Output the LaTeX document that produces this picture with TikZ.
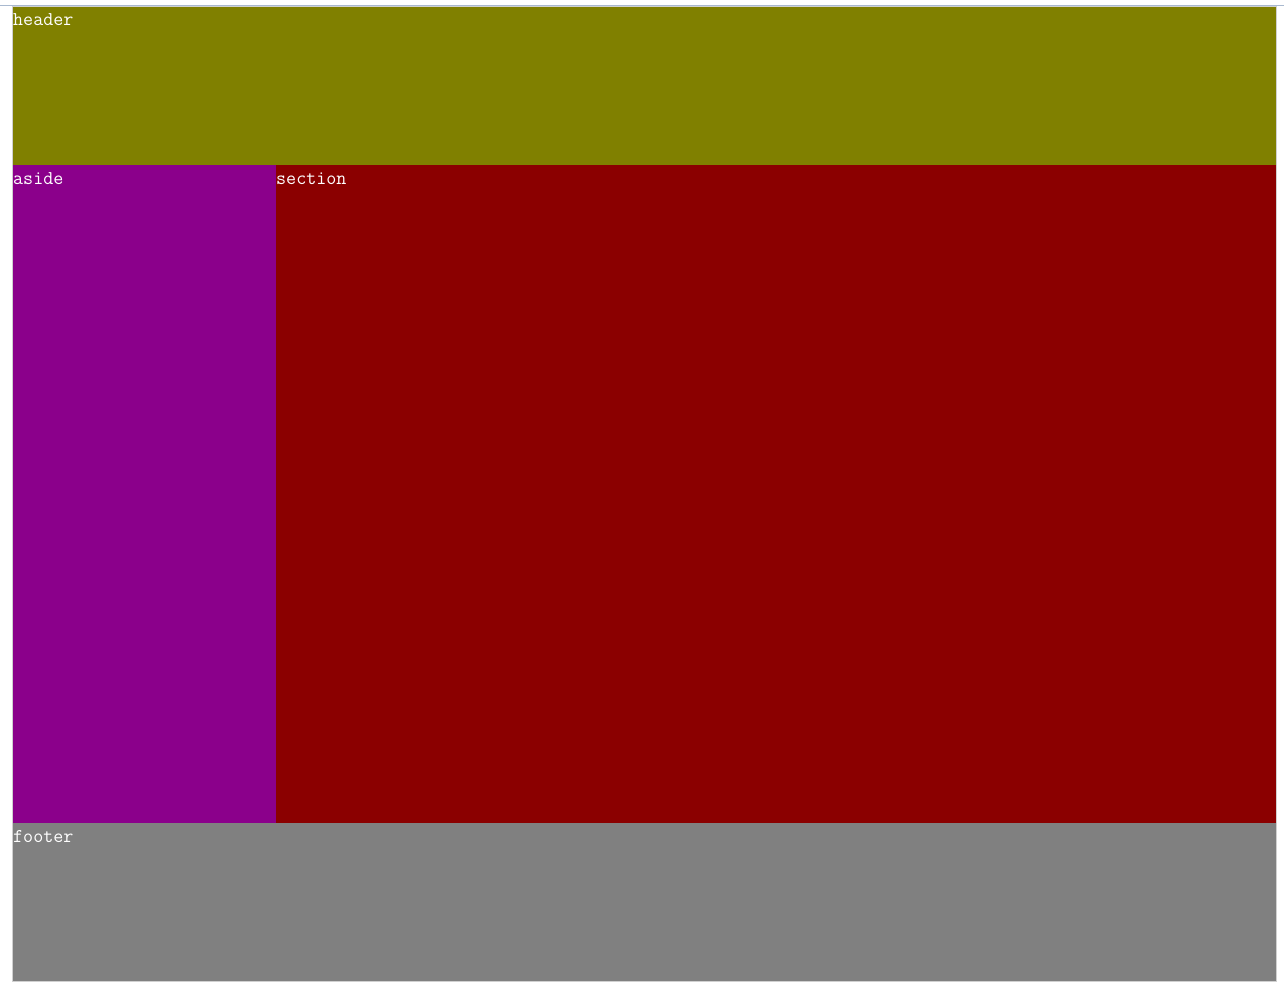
\documentclass[tikz,border=0pt]{standalone}
\usepackage{fontspec}
\definecolor{hdr}{HTML}{808000}
\definecolor{asd}{HTML}{8B008B}
\definecolor{sec}{HTML}{8B0000}
\definecolor{ftr}{HTML}{808080}
\definecolor{topline}{HTML}{A9B9CF}
\definecolor{edge}{HTML}{D0D0D0}
\tikzset{
  blk/.style={draw=none, inner sep=0pt, outer sep=0pt},
  lbl/.style={anchor=base west, inner sep=0pt, text=white, font=\ttfamily\fontsize{19.5}{19.5}\selectfont}
}
\begin{document}
\begin{tikzpicture}[x=1pt,y=-1pt]
\useasboundingbox[fill=white] (0,0) rectangle (1284,990);
\fill[topline] (0,5) rectangle (1284,6.5);
\fill[edge] (12,6.5) rectangle (1277,982);
\fill[hdr] (13,7) rectangle (1276,165);
\fill[asd] (13,165) rectangle (276,823);
\fill[sec] (276,165) rectangle (1276,823);
\fill[ftr] (13,823) rectangle (1276,981);
\node[lbl] (header) at (13,26) {header};
\node[lbl] (aside) at (13,184) {aside};
\node[lbl] (section) at (276,184) {section};
\node[lbl] (footer) at (13,842) {footer};
\end{tikzpicture}
\end{document}
